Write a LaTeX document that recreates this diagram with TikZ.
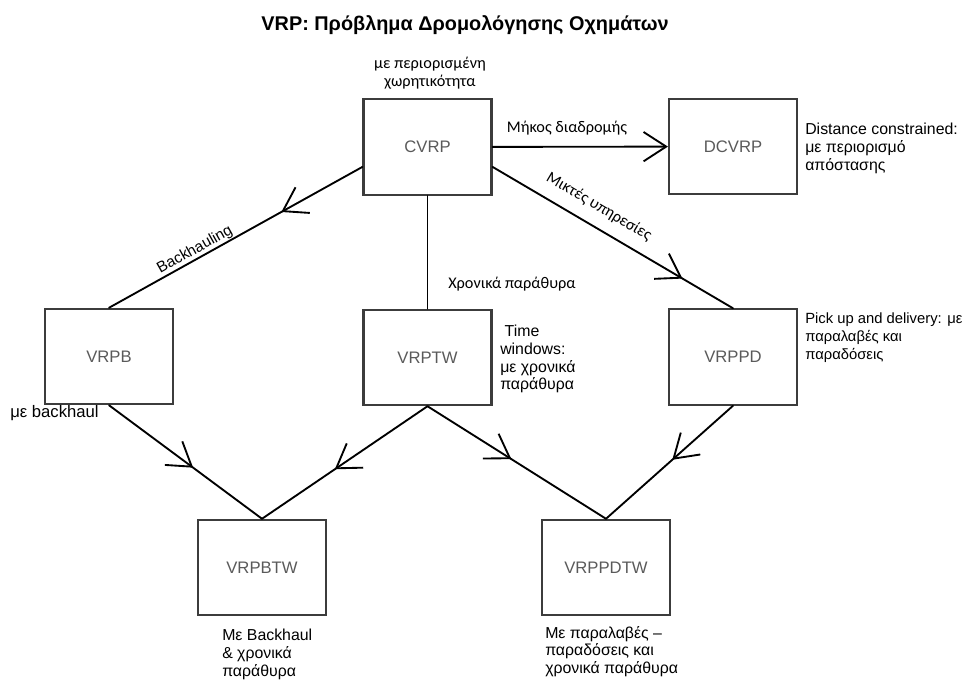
\documentclass[tikz,border=0pt]{standalone}
\usepackage{fontspec}
\setmainfont{Liberation Sans}
\newfontfamily\edgefont{Carlito}
\usetikzlibrary{arrows.meta,decorations.markings}
\definecolor{boxline}{HTML}{3C3C3C}
\definecolor{boxtext}{HTML}{5A5A5A}

\begin{document}
\begin{tikzpicture}[x=0.75pt,y=-0.75pt,
  box/.style={draw=boxline,line width=1.6pt,minimum width=96pt,minimum height=71.5pt,
    inner sep=0pt,text=boxtext,font=\fontsize{12.5}{15}\selectfont},
  link/.style={line width=1.4pt,line cap=round},
  tipat/.style={postaction={decorate},decoration={markings,
    mark=at position #1 with {\arrow{Straight Barb[length=17pt,width=22pt,line width=1.4pt]}}}},
  note/.style={inner sep=0pt,align=left,font=\fontsize{11.9}{13.3}\selectfont},
  elabel/.style={inner sep=0pt,font=\edgefont\fontsize{12.2}{13.5}\selectfont},
  title/.style={inner sep=0pt,font=\bfseries\fontsize{14.9}{17}\selectfont}
]
\useasboundingbox (0,0) rectangle (968,679);

% heading
\node[title] (head) at (465,25) {VRP: Πρόβλημα Δρομολόγησης Οχημάτων};

% problem variants
\node[box] (cvrp)    at (427.5,147)   {CVRP};
\node[box] (dcvrp)   at (733,146.5)   {DCVRP};
\node[box] (vrpb)    at (109,356.5)   {VRPB};
\node[box] (vrptw)   at (427.5,357.5) {VRPTW};
\node[box] (vrppd)   at (733,357)     {VRPPD};
\node[box] (vrpbtw)  at (262,567.5)   {VRPBTW};
\node[box] (vrppdtw) at (606,567.5)   {VRPPDTW};

% relations between the variants
\draw[link,-{Straight Barb[length=17pt,width=22pt,line width=1.4pt]}] (cvrp) -- (dcvrp);
\draw[link,tipat=0.32] (cvrp.197) -- (vrpb.north);
\draw[link] (cvrp.south) -- (vrptw.north);
\draw[link,tipat=0.79] (cvrp.343) -- (vrppd.north);
\draw[link,tipat=0.55] (vrpb.south) -- (vrpbtw.north);
\draw[link,tipat=0.56] (vrptw.south) -- (vrpbtw.north);
\draw[link,tipat=0.47] (vrptw.south) -- (vrppdtw.north);
\draw[link,tipat=0.48] (vrppd.south) -- (vrppdtw.north);

% edge labels
\node[elabel,align=center] (capnote) at (430,73) {με περιορισμένη\\χωρητικότητα};
\node[elabel] (lenlbl) at (567,128) {Μήκος διαδρομής};
\node[elabel,rotate=-30.5] (mixlbl) at (599,207) {Μικτές υπηρεσίες};
\node[elabel,anchor=west] (twlbl) at (448,284) {Χρονικά παράθυρα};
\node[inner sep=0pt,font=\fontsize{11.5}{13.5}\selectfont,rotate=29.2] (bhlbl) at (195,250) {Backhauling};

% descriptions
\node[note,anchor=north west] (dcnote) at (805,123) {Distance constrained:\\με περιορισμό\\απόστασης};
\node[note,anchor=north west,font=\fontsize{11.1}{13.3}\selectfont] (pdnote) at (805,313) {Pick up and delivery: με\\παραλαβές και\\παραδόσεις};
\node[note,anchor=north west] (twnote) at (500,325) {\ Time\\windows:\\με χρονικά\\παράθυρα};
\node[note,anchor=west,font=\fontsize{12.5}{14}\selectfont] (bnote) at (10,413) {με backhaul};
\node[note,anchor=north west] (btwnote) at (222,629) {Με Backhaul\\\& χρονικά\\παράθυρα};
\node[note,anchor=north west] (pdtwnote) at (545,626) {Με παραλαβές –\\παραδόσεις και\\χρονικά παράθυρα};
\end{tikzpicture}
\end{document}
